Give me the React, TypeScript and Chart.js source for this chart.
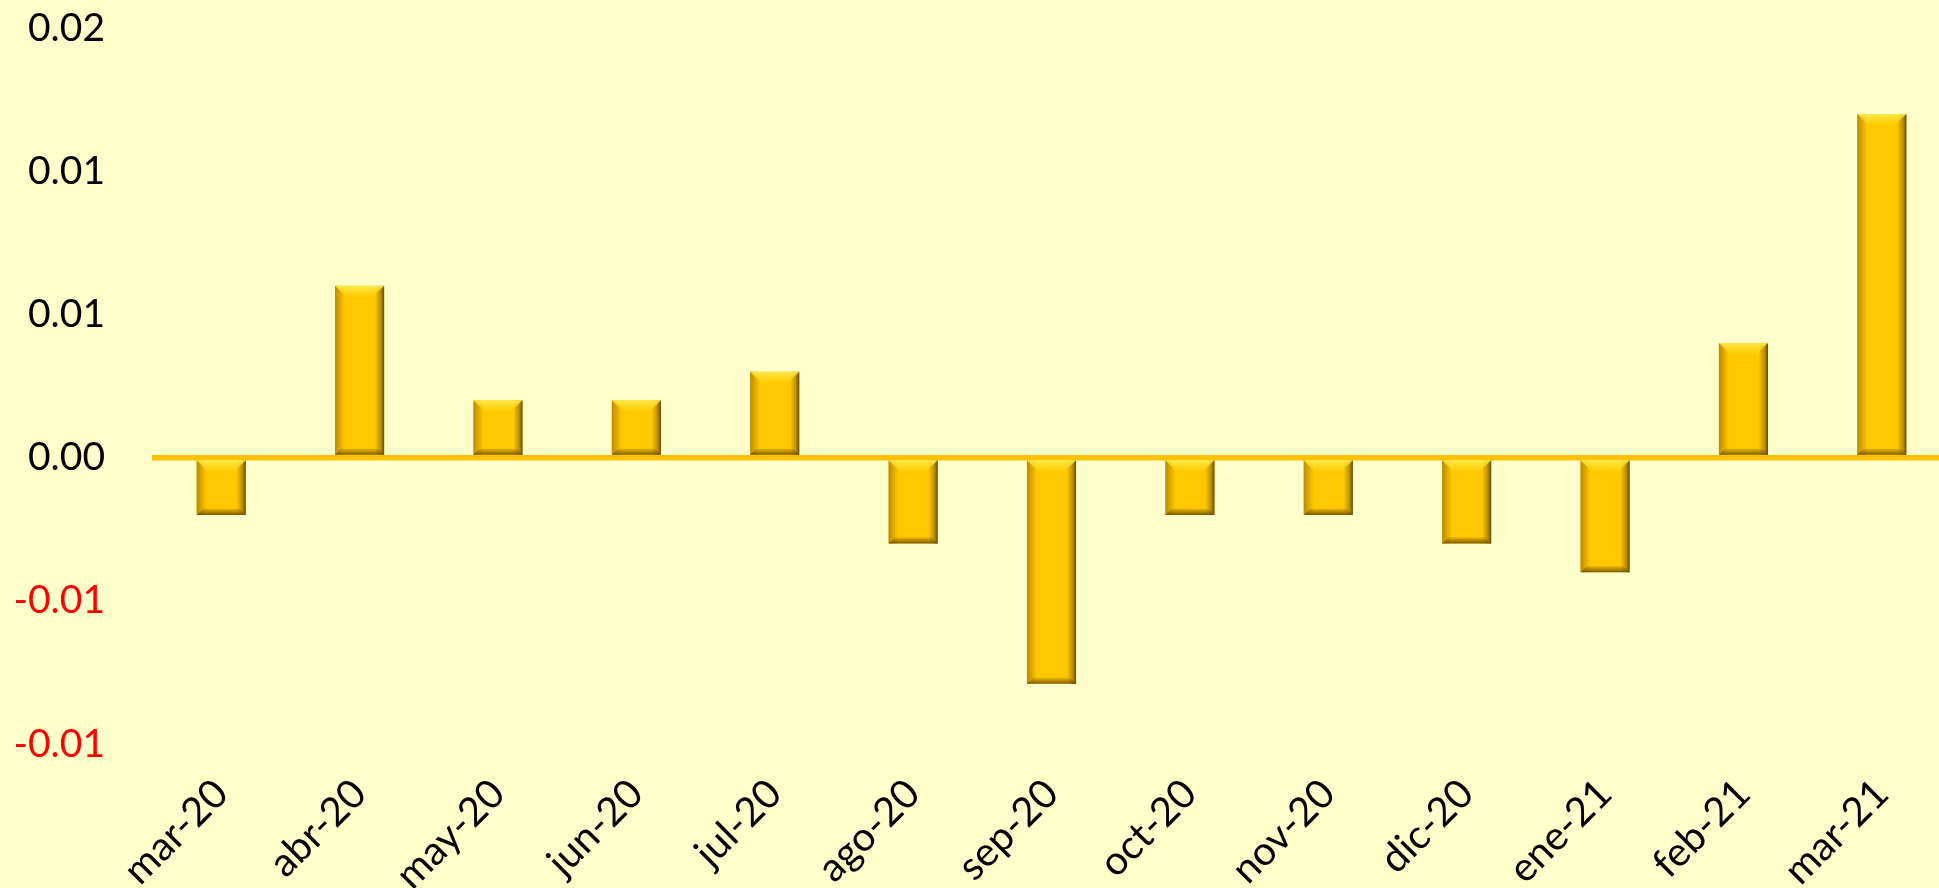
import React, { useEffect, useRef } from "react";
import { Chart, registerables } from "chart.js";

Chart.register(...registerables);

const categories = ["mar-20", "abr-20", "may-20", "jun-20", "jul-20", "ago-20", "sep-20", "oct-20", "nov-20", "dic-20", "ene-21", "feb-21", "mar-21"];
const values = [-0.002, 0.006, 0.002, 0.002, 0.003, -0.003, -0.0079, -0.002, -0.002, -0.003, -0.004, 0.004, 0.012];
const yMin = -0.01;
const yMax = 0.015;
const yStep = 0.005;
const yTickLabels = ["-0.01", "-0.01", "0.00", "0.01", "0.01", "0.02"];

const BG = "#FFFFCC";
const BAR = "#FFC800";
const ZERO_LINE = "#FFC000";
const FONT = "Lato";

const bevelPlugin = {
  id: "bevel",
  afterDatasetsDraw(chart: any) {
    const ctx = chart.ctx as CanvasRenderingContext2D;
    const meta = chart.getDatasetMeta(0);
    meta.data.forEach((bar: any) => {
      const { x, y, base, width } = bar.getProps(["x", "y", "base", "width"], true);
      const l = x - width / 2;
      const r = x + width / 2;
      const t = Math.min(y, base);
      const b = Math.max(y, base);
      const h = b - t;
      ctx.save();
      let g = ctx.createLinearGradient(l, 0, l + 10, 0);
      g.addColorStop(0, "rgba(160,110,0,0.7)");
      g.addColorStop(1, "rgba(170,120,0,0)");
      ctx.fillStyle = g;
      ctx.fillRect(l, t, 10, h);
      g = ctx.createLinearGradient(r - 9, 0, r, 0);
      g.addColorStop(0, "rgba(90,60,0,0)");
      g.addColorStop(0.6, "rgba(110,80,0,0.45)");
      g.addColorStop(1, "rgba(80,55,0,0.9)");
      ctx.fillStyle = g;
      ctx.fillRect(r - 9, t, 9, h);
      const bv = Math.min(11, h / 3);
      g = ctx.createLinearGradient(0, t, 0, t + bv);
      g.addColorStop(0, "rgba(255,236,80,0.95)");
      g.addColorStop(1, "rgba(255,225,40,0.15)");
      ctx.beginPath();
      ctx.moveTo(l, t);
      ctx.lineTo(r, t);
      ctx.lineTo(r - bv, t + bv);
      ctx.lineTo(l + bv, t + bv);
      ctx.closePath();
      ctx.fillStyle = g;
      ctx.fill();
      const bb = Math.min(6, h / 4);
      g = ctx.createLinearGradient(0, b - bb, 0, b);
      g.addColorStop(0, "rgba(150,105,0,0.25)");
      g.addColorStop(1, "rgba(100,72,0,0.85)");
      ctx.beginPath();
      ctx.moveTo(l + bb, b - bb);
      ctx.lineTo(r - bb, b - bb);
      ctx.lineTo(r, b);
      ctx.lineTo(l, b);
      ctx.closePath();
      ctx.fillStyle = g;
      ctx.fill();
      ctx.restore();
    });
  },
};

export default function App() {
  const canvasRef = useRef<HTMLCanvasElement | null>(null);

  useEffect(() => {
    document.body.style.background = BG;
    const canvas = canvasRef.current;
    if (!canvas) return;
    const chart = new Chart(canvas, {
      type: "bar",
      data: {
        labels: categories,
        datasets: [
          {
            data: values,
            backgroundColor: BAR,
            borderWidth: 0,
            categoryPercentage: 1,
            barPercentage: 0.355,
          },
        ],
      },
      options: {
        responsive: false,
        animation: false,
        layout: { padding: { top: 28, right: 0, left: 0, bottom: 0 } },
        plugins: { legend: { display: false }, tooltip: { enabled: false } },
        scales: {
          x: {
            grid: { display: false, drawTicks: false },
            border: { display: false },
            ticks: {
              autoSkip: false,
              minRotation: 45,
              maxRotation: 45,
              padding: 26,
              color: "#000000",
              font: { family: FONT, size: 40 },
            },
            afterFit: (scale: any) => {
              scale.height = 144;
              scale.paddingLeft = 0;
              scale.paddingRight = 0;
            },
          },
          y: {
            min: yMin,
            max: yMax,
            z: 1,
            grid: {
              drawTicks: false,
              color: (c: any) => (Math.abs(c.tick?.value ?? 1) < 1e-9 ? ZERO_LINE : "rgba(0,0,0,0)"),
              lineWidth: (c: any) => (Math.abs(c.tick?.value ?? 1) < 1e-9 ? 5.5 : 0),
            },
            border: { display: false },
            ticks: {
              stepSize: yStep,
              padding: 47,
              color: (c: any) => (c.tick && c.tick.value < 0 ? "#FF0000" : "#000000"),
              font: { family: FONT, size: 39 },
              callback: (_v: any, i: number) => yTickLabels[i],
            },
            afterFit: (scale: any) => {
              scale.width = 152;
              scale.paddingTop = 0;
              scale.paddingBottom = 0;
            },
          },
        },
      },
      plugins: [bevelPlugin],
    });
    return () => chart.destroy();
  }, []);

  return (
    <div style={{ position: "fixed", left: 0, top: 0, width: 1951, height: 888, background: BG }}>
      <canvas ref={canvasRef} width={1951} height={888} style={{ display: "block" }} />
    </div>
  );
}
